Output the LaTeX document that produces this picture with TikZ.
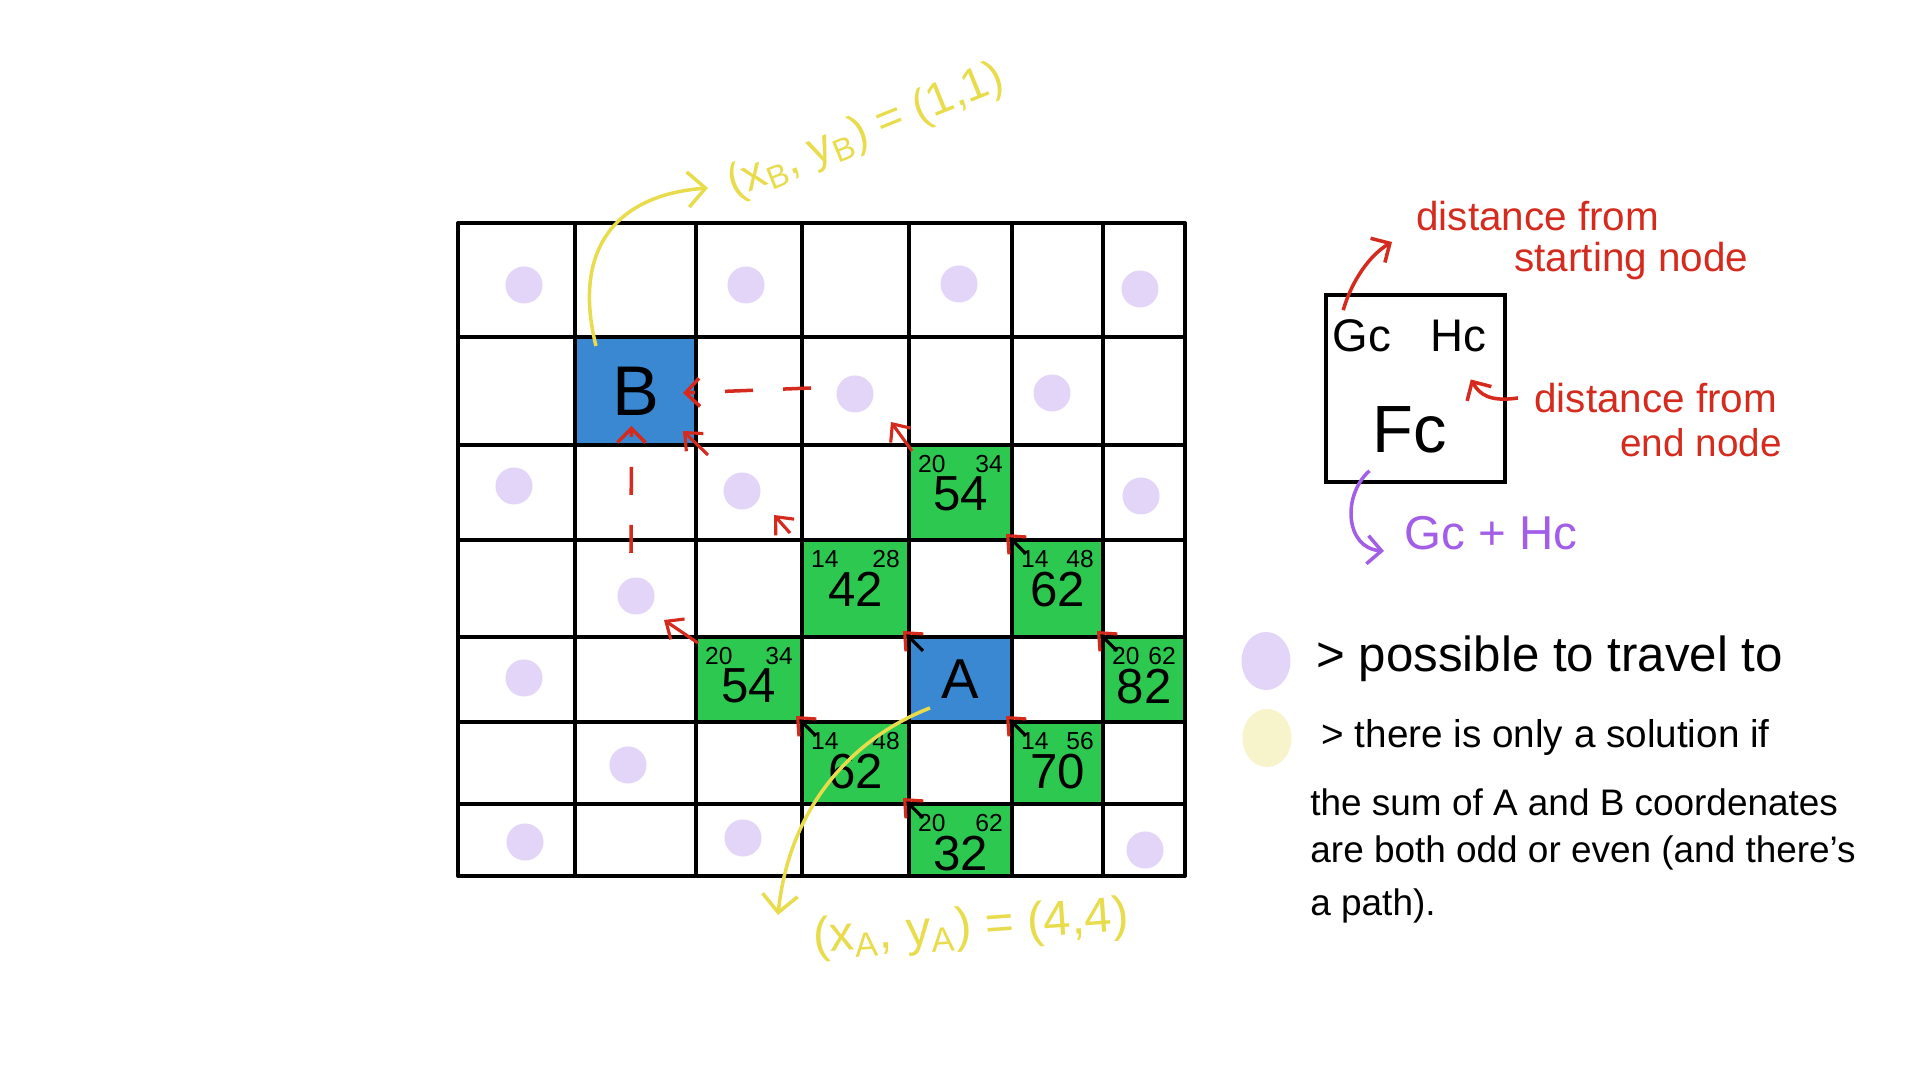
\documentclass[tikz,border=0pt]{standalone}
\usepackage{fontspec}
\setmainfont{Liberation Sans}
\usetikzlibrary{arrows.meta,calc,shapes.geometric}

\definecolor{cellgreen}{HTML}{2CC84F}
\definecolor{cellblue}{HTML}{3A88D2}
\definecolor{dotlilac}{HTML}{E3D5F7}
\definecolor{dotcream}{HTML}{F7F4CC}
\definecolor{markyellow}{HTML}{E9DC4C}
\definecolor{markred}{HTML}{D52B1E}
\definecolor{markpurple}{HTML}{A35EE8}

\tikzset{
  board/.style={
    x=0.01cm, y=-0.01cm,
    board line/.style={line width=1pt, line cap=round},
    green cell/.style={fill=cellgreen},
    blue cell/.style={fill=cellblue},
    travel dot/.style={circle, fill=dotlilac, minimum size=0.37cm, inner sep=0pt},
    key dot/.style={ellipse, minimum width=0.49cm, minimum height=0.58cm, inner sep=0pt},
    g value/.style={font=\fontsize{7}{8}\selectfont, anchor=north west, inner sep=1pt,
        xshift=0.05cm, yshift=-0.06cm},
    h value/.style={font=\fontsize{7}{8}\selectfont, anchor=north east, inner sep=1pt,
        xshift=-0.05cm, yshift=-0.06cm},
    f value/.style={font=\fontsize{14}{16}\selectfont, inner sep=0pt, anchor=north},
    cell letter/.style={font=\fontsize{20}{24}\selectfont, inner sep=0pt},
    parent arrow/.style={draw=black, line width=0.9pt,
        -{Straight Barb[length=4pt, width=7pt, color=markred]}},
    red shaft/.style={draw=markred},
    hint dash/.style={draw=markred, line width=1pt, dash pattern=on 0.28cm off 0.3cm,
        -{Straight Barb[length=4pt, width=8pt]}},
    coord arrow/.style={draw=markyellow, line width=1pt,
        -{Straight Barb[length=5pt, width=10pt]}},
    coord text/.style={text=markyellow, font=\fontsize{13}{16}\selectfont},
    key box/.style={draw, line width=1pt, minimum width=1.79cm, minimum height=1.87cm},
    key text/.style={font=\fontsize{13}{16}\selectfont, inner sep=0pt},
    note arrow/.style={draw=markred, line width=1pt,
        -{Straight Barb[length=4pt, width=8pt]}},
    note text/.style={text=markred, font=\fontsize{11.5}{14}\selectfont, anchor=west},
    sum arrow/.style={draw=markpurple, line width=1pt,
        -{Straight Barb[length=4pt, width=8pt]}},
    sum text/.style={text=markpurple, font=\fontsize{13.5}{16}\selectfont, anchor=west},
    legend text/.style={font=\fontsize{10.5}{13}\selectfont, anchor=west}
  }
}

\begin{document}
\begin{tikzpicture}[board]
    \fill[white] (0,0) rectangle (1920,1080);
    \useasboundingbox (0,0) rectangle (1920,1080);

    \foreach \x [count=\i from 0] in {458,575,696,802,909,1012,1103,1185}
        \foreach \y [count=\j from 0] in {223,337,445,540,637,722,804,876}
            \coordinate (g\i\j) at (\x,\y);

    % start and goal
    \fill[blue cell] (g11) rectangle (g22);
    \fill[blue cell] (g44) rectangle (g55);

    % opened cells: G, H, F
    \foreach \c/\r/\gval/\hval/\fval in {4/2/20/34/54, 3/3/14/28/42, 5/3/14/48/62,
            2/4/20/34/54, 6/4/20/62/82, 3/5/14/48/62, 5/5/14/56/70, 4/6/20/62/32} {
        \pgfmathtruncatemacro{\cn}{\c+1}
        \pgfmathtruncatemacro{\rn}{\r+1}
        \fill[green cell] (g\c\r) rectangle (g\cn\rn);
        \node[g value] (gv\c\r) at (g\c\r) {\gval};
        \node[h value] (hv\c\r) at (g\cn\r) {\hval};
        \node[f value] (fv\c\r) at ($(g\c\r)!0.5!(g\cn\r)+(0,31)$) {\fval};
    }

    \foreach \i in {0,...,7} {
        \draw[board line] (g\i0) -- (g\i7);
        \draw[board line] (g0\i) -- (g7\i);
    }

    \node[cell letter] (B) at ($(g11)!0.5!(g22)$) {B};
    \node[cell letter, font=\fontsize{16}{19}\selectfont] (A) at ($(g44)!0.5!(g55)$) {A};

    \foreach \px/\py [count=\k] in {524/285, 746/285, 959/284, 1140/289, 855/394, 1052/393,
            514/486, 742/491, 1141/496, 636/596, 524/678, 628/765, 525/842, 743/838, 1145/850}
        \node[travel dot] (dot\k) at (\px,\py) {};

    % parents
    \foreach \c in {g44,g53,g64,g55,g35,g46}
        \draw[parent arrow] ([shift={(14,14)}]\c) -- ([shift={(-6,-6)}]\c);
    \draw[parent arrow, red shaft] ([shift={(3,6)}]g42) -- ([shift={(-18,-23)}]g42);
    \draw[parent arrow, red shaft] ([shift={(-12,-7)}]g33) -- ([shift={(-28,-25)}]g33);
    \draw[parent arrow, red shaft] ([shift={(2,6)}]g24) -- ([shift={(-32,-17)}]g24);
    \draw[parent arrow, red shaft] ([shift={(12,10)}]g22) -- ([shift={(-13,-14)}]g22);

    \coordinate (Bright) at ($(g21)!0.5!(g22)$);
    \coordinate (Bbottom) at ($(g12)!0.5!(g22)$);
    \coordinate (hstart) at (811,388);
    \coordinate (vstart) at (631,553);
    \draw[hint dash] (hstart) -- ([shift={(-13,2)}]Bright);
    \draw[hint dash] (vstart) -- ([shift={(-4,-19)}]Bbottom);

    % coordinates of A and B
    \coordinate (Bfoot) at (596,346);
    \coordinate (Bpoint) at (708,188);
    \draw[coord arrow] (Bfoot) .. controls (572,250) and (615,195) .. (Bpoint);
    \node[coord text, rotate=22] (Blabel) at (866,132)
        {(x\textsubscript{B}, y\textsubscript{B}) = (1,1)};
    \coordinate (Afoot) at (930,708);
    \coordinate (Apoint) at (778,915);
    \draw[coord arrow] (Afoot) .. controls (860,735) and (790,800) .. (Apoint);
    \node[coord text, font=\fontsize{14}{17}\selectfont, rotate=4] (Alabel) at (971,929)
        {(x\textsubscript{A}, y\textsubscript{A}) = (4,4)};

    % key
    \node[key box] (key) at (1415.5,388.5) {};
    \node[key text] (Gc) at (1362,336) {Gc};
    \node[key text] (Hc) at (1458,336) {Hc};
    \node[key text, font=\fontsize{19}{23}\selectfont] (Fc) at (1410,430) {Fc};
    \node[note text] (dstart) at (1404,216) {distance from};
    \node[note text] (dstart2) at (1502,261) {starting node};
    \node[note text] (dend) at (1522,398) {distance from};
    \node[note text, font=\fontsize{11}{13}\selectfont] (dend2) at (1608,443) {end node};
    \node[sum text] (sum) at (1392,533) {Gc + Hc};
    \draw[note arrow] ([shift={(19,17)}]key.north west) .. controls (1352,280) and (1370,255)
        .. ([shift={(-12,26)}]dstart.west);
    \draw[note arrow] ([shift={(-4,0)}]dend.west) .. controls (1490,402) and (1480,395)
        .. ([shift={(-36,-9)}]key.east);
    \draw[sum arrow] ([shift={(-46,-13)}]key.south) .. controls (1342,495) and (1345,548)
        .. ([shift={(-8,18)}]sum.west);

    % legend
    \node[key dot, fill=dotlilac] (lilac) at (1266,661) {};
    \node[key dot, fill=dotcream] (cream) at (1267,738) {};
    \node[legend text, font=\fontsize{14}{16}\selectfont] (travel) at (1304,659) {> possible to travel to};
    \node[legend text, font=\fontsize{11}{13}\selectfont] (rule1) at (1309,738) {> there is only a solution if};
    \node[legend text] (rule2) at (1298,802) {the sum of A and B coordenates};
    \node[legend text] (rule3) at (1298,853) {are both odd or even (and there's};
    \node[legend text] (rule4) at (1298,906) {a path).};
\end{tikzpicture}
\end{document}
